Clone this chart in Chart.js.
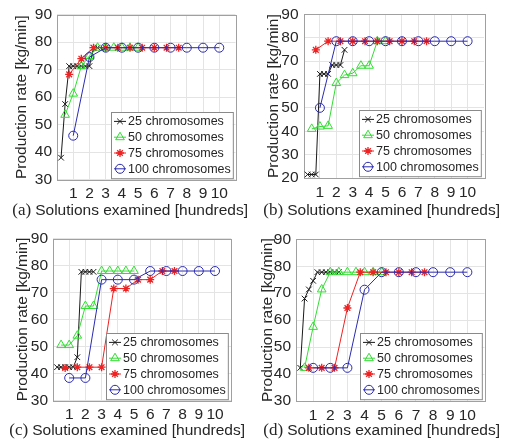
<!DOCTYPE html>
<html>
<head>
<meta charset="utf-8">
<script src="https://cdn.jsdelivr.net/npm/chart.js@4/dist/chart.umd.min.js"></script>
<style>
  body { margin: 0; background: #fff; }
  #wrap { position: relative; width: 505px; height: 443px; background: #fff; }
  .panel { position: absolute; }
</style>
</head>
<body>
<div id="wrap">
  <div class="panel" style="left:0;top:0"><canvas id="chartA" width="252" height="220"></canvas></div>
  <div class="panel" style="left:252px;top:0"><canvas id="chartB" width="253" height="220"></canvas></div>
  <div class="panel" style="left:0;top:220px"><canvas id="chartC" width="252" height="223"></canvas></div>
  <div class="panel" style="left:252px;top:220px"><canvas id="chartD" width="253" height="223"></canvas></div>
</div>
<script>
// series names and x positions (hundreds of solutions examined)
const seriesLabels = ['25 chromosomes', '50 chromosomes', '75 chromosomes', '100 chromosomes'];
const x25 = [0.25, 0.5, 0.75, 1, 1.25, 1.5, 1.75, 2, 2.25, 2.5];
const x50 = [0.5, 1, 1.5, 2, 2.5, 3, 3.5, 4, 4.5, 5];
const x75 = [0.75, 1.5, 2.25, 3, 3.75, 4.5, 5.25, 6, 6.75, 7.5];
const x100 = [1, 2, 3, 4, 5, 6, 7, 8, 9, 10];
const xTicks = [1, 2, 3, 4, 5, 6, 7, 8, 9, 10];

// (a)
const a25 = [38, 57.5, 71.3, 71.3, 71.3, 71.3, 71.3, 71.3, 78, 78];
const a50 = [53.6, 61.3, 71.3, 75, 78, 78, 78, 78, 78, 78];
const a75 = [68.3, 74, 78, 78, 78, 78, 78, 78, 78, 78];
const a100 = [46, 74.6, 78, 78, 78, 78, 78, 78, 78, 78];
// (b)
const b25 = [21.5, 21.5, 21.5, 64.5, 64.5, 64.5, 68.3, 68.3, 68.3, 74.8];
const b50 = [41, 42, 42.3, 60.6, 64, 64.8, 68, 68, 78.5, 78.5];
const b75 = [74.8, 78.5, 78.5, 78.5, 78.5, 78.5, 78.5, 78.5, 78.5, 78.5];
const b100 = [50, 78.5, 78.5, 78.5, 78.5, 78.5, 78.5, 78.5, 78.5, 78.5];
// (c)
const c25 = [42.3, 42.3, 42.3, 42.3, 42.3, 46, 77.7, 77.7, 77.7, 77.7];
const c50 = [50.5, 50.5, 54, 65, 65, 78, 78, 78, 78, 78];
const c75 = [42, 42.3, 42.3, 42.3, 71.5, 71.5, 74.8, 74.8, 78, 78];
const c100 = [38.3, 38.3, 74.8, 74.8, 74.8, 78, 78, 78, 78, 78];
// (d)
const d25 = [42.3, 68, 71.4, 74.6, 77.8, 77.8, 77.8, 77.8, 77.8, 77.8];
const d50 = [42.3, 57.5, 71.4, 77.8, 77.8, 77.8, 77.8, 77.8, 77.8, 77.8];
const d75 = [42.3, 42.3, 42.3, 64.5, 77.8, 77.8, 77.8, 77.8, 77.8, 77.8];
const d100 = [42.3, 42.3, 42.3, 71.3, 77.8, 77.8, 77.8, 77.8, 77.8, 77.8];

const FONT = '"Liberation Sans", Arial, Helvetica, sans-serif';
const TEXT = '#262626';
const GRID = '#e4e4e4';
const BOX = '#a0a0a0';

Chart.defaults.font.family = FONT;
Chart.defaults.color = TEXT;

const xSeries = [x25, x50, x75, x100];
const styles = [
  { color: '#1a1a1a', pointStyle: 'crossRot', radius: 4, bw: 1 },
  { color: '#33dd33', pointStyle: 'triangle', radius: 5, bw: 1 },
  { color: '#ee2222', pointStyle: 'star', radius: 4, bw: 1.3 },
  { color: '#2b2bb0', pointStyle: 'circle', radius: 4.5, bw: 1 }
];

// box border round the plot
const plotBox = {
  id: 'plotBox',
  beforeDatasetsDraw(chart) {
    const { ctx, chartArea: a } = chart;
    ctx.save();
    ctx.strokeStyle = BOX;
    ctx.lineWidth = 1;
    ctx.strokeRect(Math.round(a.left) + 0.5, Math.round(a.top) + 0.5,
      Math.round(a.right - a.left), Math.round(a.bottom - a.top));
    ctx.restore();
  }
};

// MATLAB style legend in the lower right corner
const cornerLegend = {
  id: 'cornerLegend',
  afterDatasetsDraw(chart) {
    const { ctx, chartArea: a } = chart;
    const ds = chart.data.datasets;
    ctx.save();
    ctx.font = '12.5px ' + FONT;
    let tw = 0;
    ds.forEach(d => { tw = Math.max(tw, ctx.measureText(d.label).width); });
    const rowH = 15.8, sample = 12;
    const w = 3 + sample + 2 + tw + 2;
    const h = ds.length * rowH + 3;
    const x = Math.round(a.right - 3 - w);
    const y = Math.round(a.bottom - 1.5 - h);
    ctx.fillStyle = '#fff';
    ctx.fillRect(x, y, w, h);
    ctx.strokeStyle = '#8a8a8a';
    ctx.lineWidth = 1;
    ctx.strokeRect(x + 0.5, y + 0.5, w, h);
    ds.forEach((d, i) => {
      const cy = y + 1.5 + rowH * (i + 0.5);
      const x0 = x + 3;
      ctx.strokeStyle = d.borderColor;
      ctx.lineWidth = 1;
      ctx.beginPath();
      ctx.moveTo(x0, cy);
      ctx.lineTo(x0 + sample, cy);
      ctx.stroke();
      ctx.fillStyle = 'rgba(0,0,0,0)';
      ctx.lineWidth = d.pointBorderWidth;
      Chart.helpers.drawPoint(ctx, {
        pointStyle: d.pointStyle, radius: d.pointRadius, rotation: 0, borderWidth: d.pointBorderWidth
      }, x0 + sample / 2, cy);
      ctx.fillStyle = TEXT;
      ctx.textBaseline = 'middle';
      ctx.textAlign = 'left';
      ctx.fillText(d.label, x0 + sample + 2, cy + 0.5);
    });
    ctx.restore();
  }
};

// "(a) Solutions examined [hundreds]" caption under the x axis
function makeCaption(letter, captionY, captionRight) {
  return {
    id: 'caption',
    afterDraw(chart) {
      const ctx = chart.ctx;
      const text = 'Solutions examined [hundreds]';
      ctx.save();
      ctx.font = '15.5px ' + FONT;
      const tw = ctx.measureText(text).width;
      ctx.fillStyle = TEXT;
      ctx.textBaseline = 'middle';
      ctx.textAlign = 'right';
      ctx.fillText(text, captionRight, captionY);
      ctx.font = '17px "Liberation Serif", "Times New Roman", serif';
      ctx.fillText(letter, captionRight - tw - 4, captionY);
      ctx.restore();
    }
  };
}

function makeChart(p) {
  const datasets = p.series.map((ys, i) => ({
    label: seriesLabels[i],
    data: xSeries[i].map((x, j) => ({ x: x, y: ys[j] })),
    borderColor: styles[i].color,
    backgroundColor: styles[i].color,
    borderWidth: 1,
    pointStyle: styles[i].pointStyle,
    pointRadius: styles[i].radius,
    pointBorderWidth: styles[i].bw,
    pointBorderColor: styles[i].color,
    pointBackgroundColor: 'rgba(0,0,0,0)',
    tension: 0,
    clip: false,
    order: 4 - i
  }));
  return new Chart(document.getElementById(p.id), {
    type: 'line',
    data: { datasets: datasets },
    options: {
      responsive: false,
      animation: false,
      events: [],
      layout: { padding: { left: 0, top: p.area.top, right: p.w - p.area.right, bottom: 0 } },
      scales: {
        x: {
          type: 'linear', min: 0, max: 11,
          afterBuildTicks: s => { s.ticks = xTicks.map(v => ({ value: v })); },
          afterFit: s => { s.height = p.h - p.area.bottom; },
          grid: { color: GRID, drawTicks: false },
          border: { display: false },
          ticks: { autoSkip: false, maxRotation: 0, minRotation: 0, padding: 5, color: TEXT, font: { size: 15.5 } }
        },
        y: {
          min: p.yMin, max: 90,
          afterFit: s => { s.width = p.area.left; },
          grid: { color: GRID, drawTicks: false },
          border: { display: false },
          ticks: { stepSize: 10, padding: 5, color: TEXT, font: { size: 15.5 } },
          title: {
            display: true, text: 'Production rate [kg/min]', color: TEXT,
            font: { size: 15.5 }, padding: { top: p.yTitleX - 9.3, bottom: 0 }
          }
        }
      },
      plugins: { legend: { display: false }, tooltip: { enabled: false } }
    },
    plugins: [plotBox, cornerLegend, makeCaption(p.letter, p.captionY, p.captionRight)]
  });
}

const panels = [
  { id: 'chartA', letter: '(a)', series: [a25, a50, a75, a100], yMin: 30, w: 252, h: 220,
    area: { left: 57, right: 235.5, top: 14.7, bottom: 179.7 }, yTitleX: 22, captionY: 211, captionRight: 248 },
  { id: 'chartB', letter: '(b)', series: [b25, b50, b75, b100], yMin: 20, w: 253, h: 220,
    area: { left: 51.5, right: 232, top: 14, bottom: 178 }, yTitleX: 22, captionY: 211, captionRight: 248 },
  { id: 'chartC', letter: '(c)', series: [c25, c50, c75, c100], yMin: 30, w: 252, h: 223,
    area: { left: 53, right: 231.2, top: 18.7, bottom: 180.3 }, yTitleX: 22.5, captionY: 211, captionRight: 245 },
  { id: 'chartD', letter: '(d)', series: [d25, d50, d75, d100], yMin: 30, w: 253, h: 223,
    area: { left: 44, right: 232.5, top: 19.3, bottom: 181 }, yTitleX: 15.5, captionY: 211, captionRight: 248 }
];

panels.forEach(makeChart);
</script>
</body>
</html>
